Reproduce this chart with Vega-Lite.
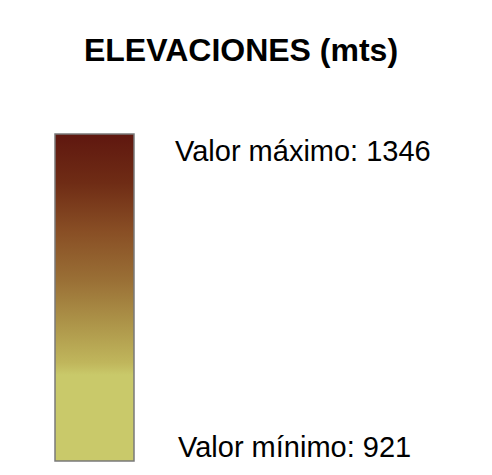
{
  "$schema": "https://vega.github.io/schema/vega-lite/v6.json",
  "autosize": {"type": "none"},
  "padding": {"left": 55, "top": 134, "right": 358, "bottom": 14},
  "width": 79,
  "height": 327,
  "background": "white",
  "config": {"view": {"stroke": null}},
  "title": {
    "text": "ELEVACIONES (mts)",
    "font": "Liberation Sans",
    "fontSize": 32,
    "fontWeight": "bold",
    "color": "black",
    "anchor": "middle",
    "frame": "group",
    "baseline": "alphabetic",
    "offset": 40,
    "dx": 146.5
  },
  "datasets": {
    "range": [{"minimo": 921, "maximo": 1346}],
    "labels": [
      {"label": "Valor máximo: 1346", "elev": 1346, "tipo": "max"},
      {"label": "Valor mínimo: 921", "elev": 921, "tipo": "min"}
    ]
  },
  "layer": [
    {
      "data": {"name": "range"},
      "mark": {
        "type": "rect",
        "stroke": "#7a7a7a",
        "strokeWidth": 1.5,
        "fill": {
          "gradient": "linear",
          "x1": 0, "y1": 0, "x2": 0, "y2": 1,
          "stops": [
            {"offset": 0, "color": "#5f170f"},
            {"offset": 0.15, "color": "#6f2c15"},
            {"offset": 0.3, "color": "#894f25"},
            {"offset": 0.45, "color": "#9a7036"},
            {"offset": 0.6, "color": "#b09a4c"},
            {"offset": 0.7, "color": "#c0b65c"},
            {"offset": 0.737, "color": "#c9c96a"},
            {"offset": 1, "color": "#c9c96a"}
          ]
        }
      },
      "encoding": {
        "y": {"field": "minimo", "type": "quantitative", "scale": {"domain": [921, 1346], "nice": false, "zero": false}, "axis": null},
        "y2": {"field": "maximo"}
      }
    },
    {
      "data": {"name": "labels"},
      "transform": [{"filter": "datum.tipo == 'max'"}],
      "mark": {"type": "text", "font": "Liberation Sans", "fontSize": 29, "color": "black", "align": "left", "baseline": "alphabetic", "dx": 80.5, "dy": 27},
      "encoding": {
        "y": {"field": "elev", "type": "quantitative"},
        "text": {"field": "label"}
      }
    },
    {
      "data": {"name": "labels"},
      "transform": [{"filter": "datum.tipo == 'min'"}],
      "mark": {"type": "text", "font": "Liberation Sans", "fontSize": 29, "color": "black", "align": "left", "baseline": "alphabetic", "dx": 83.5, "dy": -4},
      "encoding": {
        "y": {"field": "elev", "type": "quantitative"},
        "text": {"field": "label"}
      }
    }
  ]
}
